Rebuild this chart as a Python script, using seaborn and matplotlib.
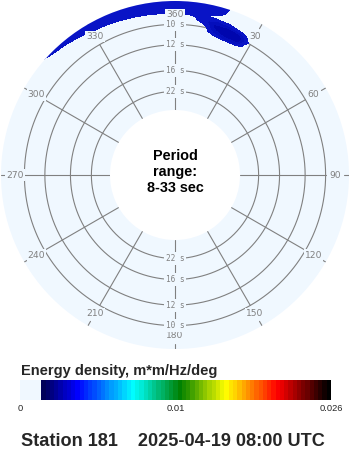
import numpy as np
import matplotlib
matplotlib.use("Agg")
import matplotlib.pyplot as plt
import seaborn as sns
from matplotlib.colors import LinearSegmentedColormap, ListedColormap, PowerNorm
from matplotlib.cm import ScalarMappable

# ---------------- data ----------------
station = "Station 181"
timestamp = "2025-04-19 08:00 UTC"
period_range_text = "Period\nrange:\n8-33 sec"
cbar_label = "Energy density, m*m/Hz/deg"
cbar_ticks = [0, 0.01, 0.026]
cbar_ticklabels = ["0", "0.01", "0.026"]
e_max = 0.026

dir_tick_deg = [0, 30, 60, 90, 120, 150, 180, 210, 240, 270, 300, 330]
dir_tick_labels = ["360", "30", "60", "90", "120", "150", "180", "210", "240", "270", "300", "330"]
period_rings_s = [10, 12, 16, 22]
period_ring_labels = ["10 s", "12 s", "16 s", "22 s"]
period_min_s = 8.4
period_max_s = 33

# spectrum grid: directions (deg, clockwise from N) x frequency (Hz)
directions_deg = [-55, -50, -45, -40, -35, -30, -25, -20, -15, -10, -5, 0, 5, 10, 15, 20, 25, 30, 35]
freq_hz = [0.0925, 0.095, 0.0975, 0.100, 0.1025, 0.105, 0.1075, 0.110, 0.1125, 0.115, 0.1175, 0.120]
# energy density in units of 1e-4 m*m/Hz/deg, rows = freq_hz, cols = directions_deg
energy_1e4 = [
    [0, 0, 0,   0,  0,  0,  0,  0,  0,   0,  0,  0,  0,  0,  0,   0,  0,  0, 0],
    [0, 0, 0,   0,  0,  0,  0,  0,  0,   0,  0,  0,  0,  0,  6.5, 15, 15, 0, 0],
    [0, 0, 0,   0,  0,  0,  0,  0,  0,   0,  0,  0,  0,  0,  14,  20, 20, 0, 0],
    [0, 0, 0,   0,  0,  0,  0,  0,  0,   0,  0,  0,  0,  0,  18,  24, 22, 5, 0],
    [0, 0, 0,   0,  0,  0,  0,  0,  0,   0,  0,  0,  0,  6,  20,  22, 18, 5, 0],
    [0, 0, 0,   0,  0,  0,  0,  0,  0,   0,  0,  0,  0,  12, 18,  16, 10, 0, 0],
    [0, 0, 0,   0,  0,  0,  0,  0,  0,   0,  0,  0,  4,  14, 12,  8.5, 0, 0, 0],
    [0, 0, 0,   0,  0,  0,  0,  5,  7.5, 9,  11, 11, 14, 9,  4,   0,  0,  0, 0],
    [0, 0, 0,   0,  0,  9,  12, 14, 14,  14, 14, 14, 14, 14, 10,  0,  0,  0, 0],
    [0, 0, 0,   5,  12, 14, 14, 14, 14,  14, 14, 14, 14, 14, 14,  2,  0,  0, 0],
    [0, 0, 8.5, 14, 14, 14, 14, 14, 14,  14, 14, 14, 14, 14, 14,  4,  0,  0, 0],
    [0, 6, 14,  14, 14, 14, 14, 14, 14,  14, 14, 14, 14, 14, 14,  6,  0,  0, 0],
]
contour_levels_1e4 = [8, 15, 19.5, 100]
contour_colors = ["#0914c6", "#040ebc", "#0006ae"]

# ---------------- style ----------------
sns.set_style("white")
plt.rcParams["font.family"] = ["Liberation Sans", "DejaVu Sans"]

disk_color = "aliceblue"
grid_color = "#808080"

# colour map (jet-like with light "zero" section)
stops = [(0.0, (0, 0, 0.35)), (0.118, (0, 0, 1)), (0.315, (0, 1, 1)),
         (0.48, (0, 0.5, 0)), (0.64, (1, 1, 0)), (0.82, (1, 0, 0)), (1.0, (0, 0, 0))]
base = LinearSegmentedColormap.from_list("wave", stops)
n_col = 68
cols = [matplotlib.colors.to_rgba(disk_color)] * 5 + [base(i / (n_col - 1)) for i in range(n_col)]
cmap = ListedColormap(cols)
norm = PowerNorm(gamma=0.725, vmin=0, vmax=e_max)

W, H = 350, 450
fig = plt.figure(figsize=(W / 100, H / 100), dpi=100)
fig.patch.set_facecolor("white")

cx, cy, R = 175, 175, 174
ax = fig.add_axes([(cx - R) / W, (H - cy - R) / H, 2 * R / W, 2 * R / H], projection="polar")
ax.set_facecolor(disk_color)
ax.set_theta_zero_location("N")
ax.set_theta_direction(-1)
f_in = 1.0 / period_max_s
f_out = 1.0 / period_min_s
px_per_hz = 1228.0
ax.set_ylim(f_in, f_out)
ax.set_rorigin(f_in - 65.0 / px_per_hz)
ax.set_xticks([])
ax.set_yticks([])
ax.grid(False)
for sp in ax.spines.values():
    sp.set_visible(False)
    sp.set_color("none")
    sp.set_linewidth(0)

theta_full = np.linspace(0, 2 * np.pi, 721)
f_ring_out = 1.0 / period_rings_s[0]
lw = 0.8
# rings
for p in period_rings_s:
    ax.plot(theta_full, np.full_like(theta_full, 1.0 / p), color=grid_color, lw=lw, zorder=2)
# spokes and small outer ticks
f_tick0 = f_in + (169 - 65) / px_per_hz
f_tick1 = f_in + (174 - 65) / px_per_hz
for d in dir_tick_deg:
    th = np.deg2rad(d)
    ax.plot([th, th], [f_in, f_ring_out], color=grid_color, lw=lw, zorder=2)
    ax.plot([th, th], [f_tick0, f_tick1], color=grid_color, lw=lw, zorder=2)

# energy spectrum
th_grid = np.deg2rad(directions_deg)
Z = np.array(energy_1e4) * 1e-4
ax.contourf(th_grid, freq_hz, Z, levels=np.array(contour_levels_1e4) * 1e-4,
            colors=contour_colors, antialiased=False, zorder=3)

# direction labels
f_lab = f_in + (160 - 65) / px_per_hz
for d, lab in zip(dir_tick_deg, dir_tick_labels):
    ax.text(np.deg2rad(d), f_lab, lab, ha="center", va="center", fontsize=6.6,
            family=["DejaVu Sans"], color=grid_color, zorder=5,
            bbox=dict(boxstyle="square,pad=0.12", fc=disk_color, ec="none"))
# period ring labels
for p, lab in zip(period_rings_s, period_ring_labels):
    for th in (0.0, np.pi):
        ax.text(th, 1.0 / p, lab, ha="center", va="center", fontsize=5.6,
                family=["DejaVu Sans Mono"], color=grid_color, zorder=5,
                bbox=dict(boxstyle="square,pad=0.25", fc=disk_color, ec="none"))

# centre text
fig.text(cx / W, 1 - 172 / H, period_range_text, ha="center", va="center",
         fontsize=10.4, fontweight="bold", linespacing=1.2, color="black")

# colour bar
cax = fig.add_axes([20 / W, 1 - 399.5 / H, 311 / W, 19.5 / H])
cb = fig.colorbar(ScalarMappable(norm=norm, cmap=cmap), cax=cax, orientation="horizontal",
                  ticks=cbar_ticks)
cb.set_ticklabels(cbar_ticklabels)
cb.outline.set_visible(False)
cax.tick_params(length=0, pad=3.5, labelsize=6.7)
fig.text(20.7 / W, 1 - 375.5 / H, cbar_label, ha="left", va="baseline",
         fontsize=10.5, fontweight="bold")

# footer
fig.text(20.7 / W, 1 - 445.7 / H, station + "    " + timestamp, ha="left", va="baseline",
         fontsize=13.1, fontweight="bold")

fig.savefig("out.png", dpi=100, facecolor="white")
